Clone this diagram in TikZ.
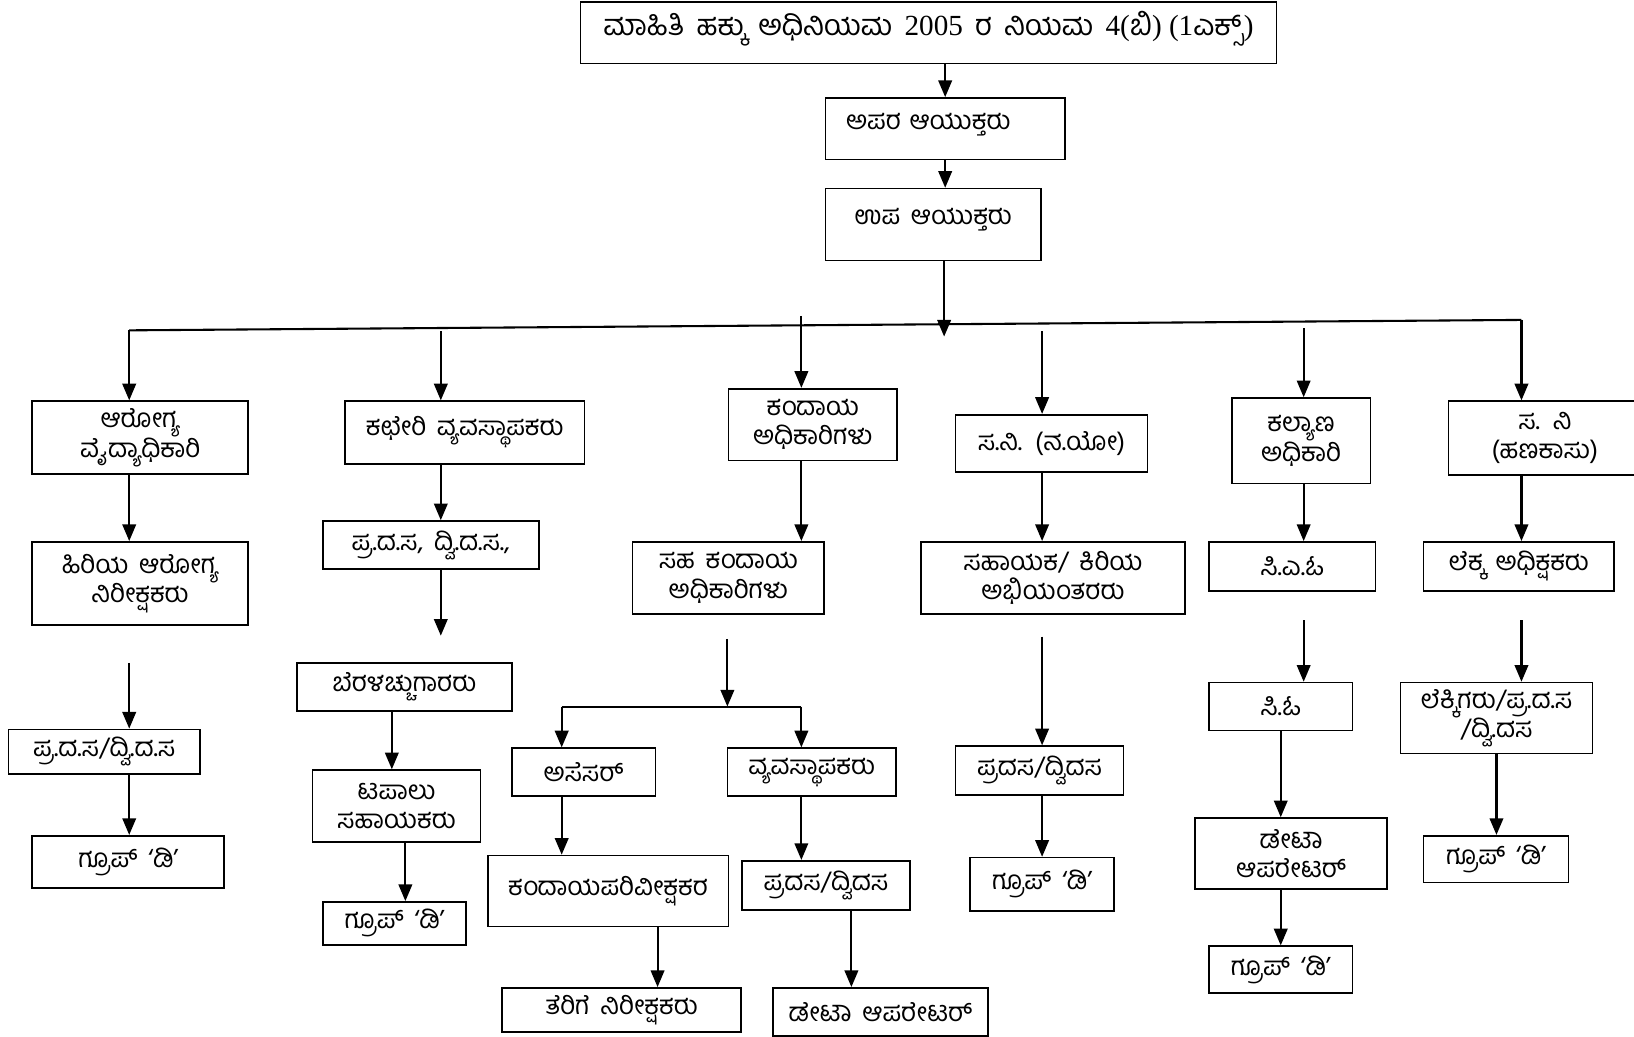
\documentclass[tikz,border=0pt]{standalone}
\usepackage{fontspec}
\setmainfont[Script=Kannada,WordSpace=1.7]{Hind Mysuru}
\newfontfamily\numfont{Liberation Serif}
\usepackage{tikz}
\usetikzlibrary{arrows.meta,positioning,calc}

\begin{document}
\begin{tikzpicture}[
    x=1pt, y=-1pt,
    box/.style={rectangle, draw=black, line width=1.6pt, align=center,
        inner sep=0pt, font=\fontsize{25}{28}\selectfont},
    arr/.style={-{Triangle[length=16pt,width=13pt]}, line width=2pt},
    bus/.style={line width=2pt}
]
\useasboundingbox (0,0) rectangle (1568,995);

% top of the chain
\node[box, minimum width=668pt, minimum height=59pt, text depth=18pt,
    font=\fontsize{28}{32}\selectfont] (rti) at (891,31.5)
    {ಮಾಹಿತಿ ಹಕ್ಕು ಅಧಿನಿಯಮ {\numfont 2005} ರ ನಿಯಮ {\numfont 4(}ಬಿ{\numfont ) (1}ಎಕ್ಸ್{\numfont )}};
\node[box, minimum width=230pt, minimum height=59pt, text depth=14pt,
    text width=190pt, align=left] (apara) at (907,123.5) {ಅಪರ ಆಯುಕ್ತರು};
\node[box, minimum width=207pt, minimum height=69pt, text depth=16pt] (upa) at (895.5,215.5) {ಉಪ ಆಯುಕ್ತರು};
\draw[arr] (apara |- rti.south) -- (apara.north);
\draw[arr] (apara.south) -- (apara.south |- upa.north);

% distribution line
\coordinate (busL) at (124,317);
\coordinate (busR) at (1460,307);
\coordinate (busin) at (906,323);
\draw[arr] (busin |- upa.south) -- (busin);
\draw[bus] (busL) -- (busR);

% heads of sections
\node[box, minimum width=207pt, minimum height=70pt] (arogya) at (134.5,420) {ಆರೋಗ್ಯ\\ವೈದ್ಯಾಧಿಕಾರಿ};
\node[box, minimum width=230pt, minimum height=60pt] (kacheri) at (446,415) {ಕಛೇರಿ ವ್ಯವಸ್ಥಾಪಕರು};
\node[box, minimum width=162pt, minimum height=69pt] (kandaya) at (780,407.5) {ಕಂದಾಯ\\ಅಧಿಕಾರಿಗಳು};
\node[box, minimum width=184pt, minimum height=55pt] (sanayo) at (1009,425.5) {ಸ.ನಿ. (ನ.ಯೋ)};
\node[box, minimum width=133pt, minimum height=82pt] (kalyana) at (1248.5,423) {ಕಲ್ಯಾಣ\\ಅಧಿಕಾರಿ};
\node[box, minimum width=185pt, minimum height=71pt] (hanakasu) at (1482.5,420.5) {ಸ. ನಿ\\(ಹಣಕಾಸು)};

\coordinate (dkach) at (423,318);
\coordinate (dkand) at (769,303);
\coordinate (dsani) at (1000,318);
\coordinate (dkaly) at (1251,315);
\draw[arr] (busL) -- (busL |- arogya.north);
\draw[arr] (dkach) -- (dkach |- kacheri.north);
\draw[arr] (dkand) -- (dkand |- kandaya.north);
\draw[arr] (dsani) -- (dsani |- sanayo.north);
\draw[arr] (dkaly) -- (dkaly |- kalyana.north);
\draw[arr] (busR) -- (busR |- hanakasu.north);

% column 1
\node[box, minimum width=207pt, minimum height=80pt] (hiriya) at (134.5,560) {ಹಿರಿಯ ಆರೋಗ್ಯ\\ನಿರೀಕ್ಷಕರು};
\node[box, minimum width=184pt, minimum height=43pt] (pdsa) at (100,721.5) {ಪ್ರ.ದ.ಸ/ದ್ವಿ.ದ.ಸ};
\node[box, minimum width=184pt, minimum height=50pt] (groupa) at (123,827) {ಗ್ರೂಪ್ ‘ಡಿ’};
\coordinate (free1) at (124,636);
\draw[arr] (busL |- arogya.south) -- (busL |- hiriya.north);
\draw[arr] (free1) -- (free1 |- pdsa.north);
\draw[arr] (free1 |- pdsa.south) -- (free1 |- groupa.north);

% column 2
\node[box, minimum width=207pt, minimum height=46pt] (pdsb) at (413.5,523) {ಪ್ರ.ದ.ಸ, ದ್ವಿ.ದ.ಸ.,};
\node[box, minimum width=206pt, minimum height=46pt] (berala) at (388,659) {ಬೆರಳಚ್ಚುಗಾರರು};
\node[box, minimum width=161pt, minimum height=69pt] (tapalu) at (380.5,773.5) {ಟಪಾಲು\\ಸಹಾಯಕರು};
\node[box, minimum width=137pt, minimum height=41pt] (groupb) at (378.5,886) {ಗ್ರೂಪ್ ‘ಡಿ’};
\coordinate (free2) at (423,610);
\draw[arr] (dkach |- kacheri.south) -- (dkach |- pdsb.north);
\draw[arr] (free2 |- pdsb.south) -- (free2);
\draw[arr] ([xshift=-12pt]berala.south) -- ([xshift=-12pt]berala.south |- tapalu.north);
\draw[arr] ([xshift=8.5pt]tapalu.south) -- ([xshift=8.5pt]tapalu.south |- groupb.north);

% column 3
\node[box, minimum width=184pt, minimum height=69pt] (sahakan) at (699,554.5) {ಸಹ ಕಂದಾಯ\\ಅಧಿಕಾರಿಗಳು};
\node[box, minimum width=138pt, minimum height=46pt] (asesar) at (560,741) {ಅಸೆಸರ್};
\node[box, minimum width=162pt, minimum height=46pt] (vyava) at (779,741) {ವ್ಯವಸ್ಥಾಪಕರು};
\node[box, minimum width=231pt, minimum height=68pt] (kpari) at (583.5,855) {ಕಂದಾಯಪರಿವೀಕ್ಷಕರ};
\node[box, minimum width=161pt, minimum height=47pt] (pradasa) at (792.5,849.5) {ಪ್ರದಸ/ದ್ವಿದಸ};
\node[box, minimum width=229pt, minimum height=42pt] (terige) at (596.5,969) {ತೆರಿಗೆ ನಿರೀಕ್ಷಕರು};
\node[box, minimum width=206pt, minimum height=46pt] (detaa) at (845,971) {ಡೇಟಾ ಆಪರೇಟರ್};
\coordinate (free3) at (698,613);
\coordinate (split) at (698,678);
\coordinate (splitL) at (539,678);
\coordinate (splitR) at (769,678);
\draw[arr] (dkand |- kandaya.south) -- (dkand |- sahakan.north);
\draw[arr] (free3) -- (split);
\draw[bus] (splitL) -- (splitR);
\draw[arr] (splitL) -- (splitL |- asesar.north);
\draw[arr] (splitR) -- (splitR |- vyava.north);
\draw[arr] (splitL |- asesar.south) -- (splitL |- kpari.north);
\draw[arr] (splitR |- vyava.south) -- (splitR |- pradasa.north);
\draw[arr] ([xshift=47.5pt]kpari.south) -- ([xshift=47.5pt]kpari.south |- terige.north);
\draw[arr] ([xshift=24.5pt]pradasa.south) -- ([xshift=24.5pt]pradasa.south |- detaa.north);

% column 4
\node[box, minimum width=253pt, minimum height=69pt] (sahaya) at (1010.5,554.5) {ಸಹಾಯಕ/ ಕಿರಿಯ\\ಅಭಿಯಂತರರು};
\node[box, minimum width=161pt, minimum height=47pt] (pradasb) at (997.5,739.5) {ಪ್ರದಸ/ದ್ವಿದಸ};
\node[box, minimum width=138pt, minimum height=51pt] (groupc) at (1000,848.5) {ಗ್ರೂಪ್ ‘ಡಿ’};
\coordinate (free4) at (1000,611);
\draw[arr] (dsani |- sanayo.south) -- (dsani |- sahaya.north);
\draw[arr] (free4) -- (free4 |- pradasb.north);
\draw[arr] (free4 |- pradasb.south) -- (free4 |- groupc.north);

% column 5
\node[box, minimum width=160pt, minimum height=47pt] (cao) at (1240,543.5) {ಸಿ.ಎ.ಓ};
\node[box, minimum width=138pt, minimum height=46pt] (co) at (1229,678) {ಸಿ.ಓ};
\node[box, minimum width=184pt, minimum height=68pt] (detab) at (1239,819) {ಡೇಟಾ\\ಆಪರೇಟರ್};
\node[box, minimum width=138pt, minimum height=45pt] (groupd) at (1229,930.5) {ಗ್ರೂಪ್ ‘ಡಿ’};
\coordinate (free5) at (1251,595);
\draw[arr] (dkaly |- kalyana.south) -- (dkaly |- cao.north);
\draw[arr] (free5) -- (free5 |- co.north);
\draw[arr] (co.south) -- (co.south |- detab.north);
\draw[arr] (co.south |- detab.south) -- (groupd.north);

% column 6
\node[box, minimum width=183pt, minimum height=47pt] (lekka) at (1457.5,543.5) {ಲೆಕ್ಕ ಅಧಿಕ್ಷಕರು};
\node[box, minimum width=184pt, minimum height=68pt] (lekki) at (1436,689) {ಲೆಕ್ಕಿಗರು/ಪ್ರ.ದ.ಸ\\/ದ್ವಿ.ದಸ};
\node[box, minimum width=139pt, minimum height=45pt] (groupe) at (1435.5,824.5) {ಗ್ರೂಪ್ ‘ಡಿ’};
\coordinate (free6) at (1460,595);
\draw[arr] (busR |- hanakasu.south) -- (busR |- lekka.north);
\draw[arr] (free6) -- (free6 |- lekki.north);
\draw[arr] (lekki.south) -- (lekki.south |- groupe.north);
\end{tikzpicture}
\end{document}
